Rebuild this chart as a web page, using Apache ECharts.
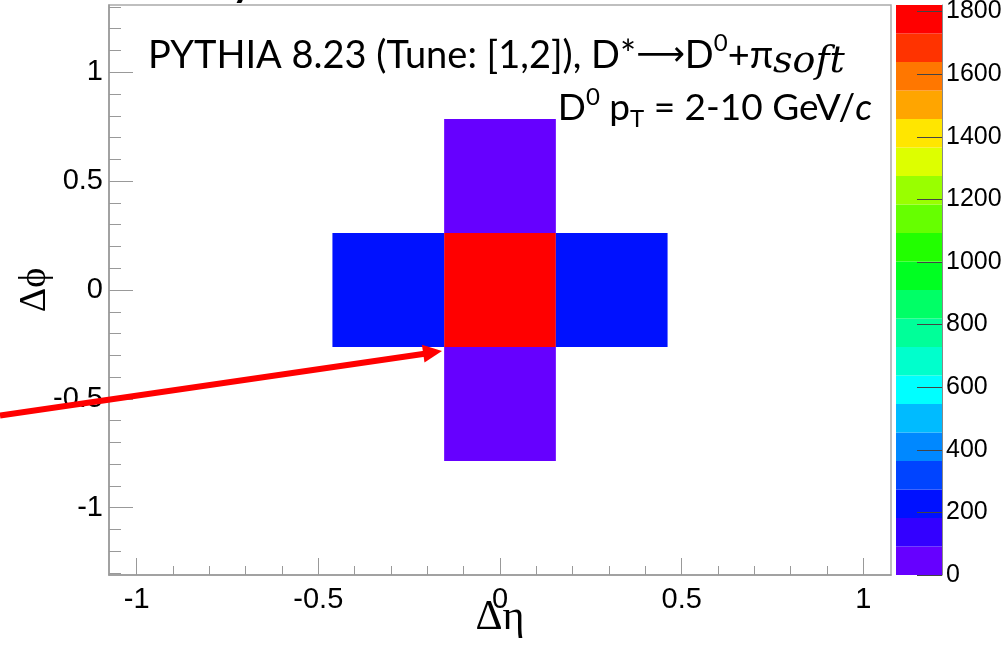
<!DOCTYPE html>
<html><head><meta charset="utf-8">
<script src="https://cdn.jsdelivr.net/npm/echarts@6/dist/echarts.min.js"></script>
<style>html,body{margin:0;padding:0;background:#fff}#c{width:1004px;height:649px}</style>
</head><body><div id="c"></div>
<script>
// Histogram binning (Δη, Δϕ)
const etaRange = [-1.076, 1.076];
const nEtaBins = 7;
const phiRange = [-1.309, 1.309];
const nPhiBins = 5;
// Filled cells: eta bin index, phi bin index, counts
const cellEtaBin = [3, 2, 4, 3, 3];
const cellPhiBin = [2, 2, 2, 3, 1];
const cellCounts = [1821, 228, 228, 42, 42];
// Colour scale
const zMax = 1821;
const palette = ['#6600ff','#3300ff','#0011ff','#0044ff','#0088ff','#00bbff','#00ffff','#00ffcc','#00ff99','#00ff66',
                 '#00ff22','#22ff00','#66ff00','#99ff00','#ddff00','#ffe600','#ffa500','#ff7700','#ff3300','#ff0000'];
// Tick labels
const xMajorTicks = [-1, -0.5, 0, 0.5, 1];
const xMinorTicks = [-0.9,-0.8,-0.7,-0.6,-0.4,-0.3,-0.2,-0.1,0.1,0.2,0.3,0.4,0.6,0.7,0.8,0.9];
const yMajorTicks = [-1, -0.5, 0, 0.5, 1];
const yMinorTicks = [-1.3,-1.2,-1.1,-0.9,-0.8,-0.7,-0.6,-0.4,-0.3,-0.2,-0.1,0.1,0.2,0.3,0.4,0.6,0.7,0.8,0.9,1.1,1.2,1.3];
const zTicks = [0, 200, 400, 600, 800, 1000, 1200, 1400, 1600, 1800];

const nLevels = palette.length;
const etaW = (etaRange[1] - etaRange[0]) / nEtaBins;
const phiW = (phiRange[1] - phiRange[0]) / nPhiBins;
const cells = cellCounts.map((v, i) => [cellEtaBin[i], cellPhiBin[i], v]);
const levels = palette.map((c, i) => [i]);
const pieces = palette.map((c, i) => ({ gte: i * zMax / nLevels, lt: (i + 1) * zMax / nLevels + (i === nLevels - 1 ? 1 : 0), color: c }));

const chart = echarts.init(document.getElementById('c'), null, { renderer: 'canvas' });
const tickFont = { fontFamily: 'Liberation Sans', color: '#000' };
const greekFont = { fontFamily: 'Liberation Serif', color: '#000' };
const plain = v => String(v);

chart.setOption({
  animation: false,
  backgroundColor: '#fff',
  grid: [
    { left: 109, top: 5, width: 782, height: 570, show: true, borderColor: '#aaa', borderWidth: 1.5, backgroundColor: 'transparent', containLabel: false, outerBoundsMode: 'none' },
    { left: 896, top: 5, width: 46, height: 570, show: false, containLabel: false, outerBoundsMode: 'none' }
  ],
  visualMap: { type: 'piecewise', show: false, seriesIndex: 0, dimension: 2, pieces: pieces },
  xAxis: [
    { gridIndex: 0, type: 'value', min: etaRange[0], max: etaRange[1], position: 'bottom',
      axisLine: { show: true, onZero: false, lineStyle: { color: '#999', width: 1.5 } },
      axisTick: { show: true, inside: true, length: 17, customValues: xMajorTicks, lineStyle: { color: '#999' } },
      axisLabel: { show: true, customValues: xMajorTicks, fontSize: 29, margin: 10, formatter: plain, ...tickFont },
      splitLine: { show: false },
      name: 'Δη', nameLocation: 'middle', nameGap: 22, nameMoveOverlap: false, nameTextStyle: { ...greekFont, fontSize: 42, verticalAlign: 'top' } },
    { gridIndex: 0, type: 'value', min: etaRange[0], max: etaRange[1], position: 'bottom',
      axisLine: { show: false, onZero: false },
      axisTick: { show: true, inside: true, length: 9, customValues: xMinorTicks, lineStyle: { color: '#999' } },
      axisLabel: { show: false }, splitLine: { show: false } },
    { gridIndex: 1, type: 'value', min: 0, max: 1, show: false, axisLine: { onZero: false } }
  ],
  yAxis: [
    { gridIndex: 0, type: 'value', min: phiRange[0], max: phiRange[1], position: 'left',
      axisLine: { show: true, onZero: false, lineStyle: { color: '#999', width: 1.5 } },
      axisTick: { show: true, inside: true, length: 24, customValues: yMajorTicks, lineStyle: { color: '#999' } },
      axisLabel: { show: true, customValues: yMajorTicks, fontSize: 29, margin: 6, formatter: plain, ...tickFont },
      splitLine: { show: false },
      name: 'Δϕ', nameLocation: 'middle', nameRotate: 90, nameGap: 55, nameMoveOverlap: false, nameTextStyle: { ...greekFont, fontSize: 38 } },
    { gridIndex: 0, type: 'value', min: phiRange[0], max: phiRange[1], position: 'left',
      axisLine: { show: false, onZero: false },
      axisTick: { show: true, inside: true, length: 12, customValues: yMinorTicks, lineStyle: { color: '#999' } },
      axisLabel: { show: false }, splitLine: { show: false } },
    { gridIndex: 1, type: 'value', min: 0, max: zMax, position: 'right', z: 10,
      axisLine: { show: true, onZero: false, lineStyle: { color: '#888', width: 1 } },
      axisTick: { show: true, inside: true, length: 25, customValues: zTicks, lineStyle: { color: '#444' } },
      axisLabel: { show: true, customValues: zTicks, fontSize: 25, margin: 4, formatter: plain, ...tickFont },
      splitLine: { show: false } }
  ],
  series: [
    { type: 'custom', xAxisIndex: 0, yAxisIndex: 0, data: cells, z: 2,
      renderItem: (params, api) => {
        const i = api.value(0), j = api.value(1);
        const x0 = etaRange[0] + i * etaW, x1 = x0 + etaW;
        const y0 = phiRange[0] + j * phiW, y1 = y0 + phiW;
        const p0 = api.coord([x0, y1]), p1 = api.coord([x1, y0]);
        return { type: 'rect', shape: { x: p0[0], y: p0[1], width: p1[0] - p0[0], height: p1[1] - p0[1] },
                 style: { fill: api.visual('color') } };
      } },
    { type: 'custom', xAxisIndex: 2, yAxisIndex: 2, data: levels, z: 1,
      renderItem: (params, api) => {
        const k = api.value(0);
        const lo = k * zMax / nLevels, hi = (k + 1) * zMax / nLevels;
        const p0 = api.coord([0, hi]), p1 = api.coord([1, lo]);
        return { type: 'rect', shape: { x: p0[0], y: p0[1], width: p1[0] - p0[0], height: p1[1] - p0[1] },
                 style: { fill: palette[k] } };
      } }
  ],
  graphic: [
    { type: 'text', x: 148, y: 31, z: 50, style: {
        text: '{m|PYTHIA 8.23 (Tune: [1,2]), D*}{ar|⟶}{m|D}{sup|0}{m|+π}{it|soft}',
        align: 'left', verticalAlign: 'top',
        rich: {
          m: { fontFamily: 'Lato, "Noto Sans"', fontSize: 38, lineHeight: 46, fill: '#000' },
          ar: { fontFamily: 'DejaVu Sans', fontSize: 34, lineHeight: 46, fill: '#000' },
          sup: { fontFamily: 'Lato', fontSize: 24, lineHeight: 16, verticalAlign: 'top', fill: '#000' },
          it: { fontFamily: 'DejaVu Serif', fontStyle: 'italic', fontSize: 38, lineHeight: 50, verticalAlign: 'bottom', fill: '#000' }
        } } },
    { type: 'text', x: 872, y: 85, z: 50, style: {
        text: '{m|D}{sup|0}{m| p}{sub|T}{m| = 2-10 GeV/}{it|c}',
        align: 'right', verticalAlign: 'top',
        rich: {
          m: { fontFamily: 'Lato', fontSize: 37, lineHeight: 46, fill: '#000' },
          sup: { fontFamily: 'Lato', fontSize: 24, lineHeight: 16, verticalAlign: 'top', fill: '#000' },
          sub: { fontFamily: 'Lato', fontSize: 24, lineHeight: 22, verticalAlign: 'bottom', fill: '#000' },
          it: { fontFamily: 'Lato', fontStyle: 'italic', fontSize: 37, lineHeight: 46, fill: '#000' }
        } } },
    { type: 'text', x: 232, y: -17, z: 50, style: { text: 'y', fontFamily: 'Lato', fontWeight: 'bold', fontSize: 40, fill: '#000', verticalAlign: 'middle' } },
    { type: 'line', z: 60, shape: { x1: 0, y1: 415.5, x2: 428, y2: 353.3 }, style: { stroke: '#ff0000', lineWidth: 6 } },
    { type: 'polygon', z: 60, shape: { points: [[442, 351], [424.5, 362.6], [421.9, 344.8]] }, style: { fill: '#ff0000' } }
  ]
});
</script>
</body></html>
